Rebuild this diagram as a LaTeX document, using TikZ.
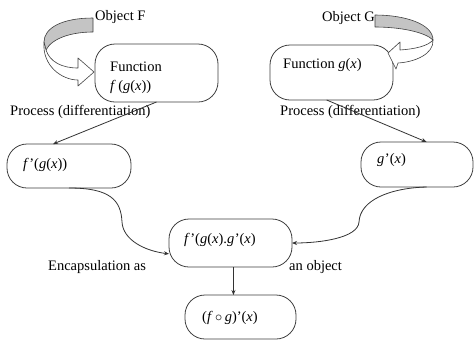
\documentclass[tikz,border=0pt]{standalone}
\usepackage{fontspec}
\setmainfont{Liberation Serif}
\usetikzlibrary{arrows.meta}
\newcommand{\pr}{\char"27\relax}
\newcommand{\iv}[1]{\textit{#1}}
\definecolor{edge}{HTML}{404040}
\definecolor{band}{HTML}{C4C4C4}
\tikzset{
  capsule/.style={draw=edge, line width=0.8pt, rounded corners=20pt, rectangle, inner sep=0pt, outer sep=0pt, fill=white},
  lbl/.style={inner sep=0pt, anchor=west, font=\fontsize{14.5}{16}\selectfont},
  conn/.style={draw=black!80, line width=0.8pt, -{Stealth[length=5pt,width=4pt]}},
  ribbon/.style={draw=edge, line width=0.6pt, line join=round}
}
\begin{document}
\begin{tikzpicture}[x=1pt,y=-1pt]
\useasboundingbox[fill=white] (0,0) rectangle (474,341);
% boxes
\node[capsule, minimum width=123pt, minimum height=58pt] (F) at (156.5,73) {};
\node[capsule, minimum width=123pt, minimum height=55pt] (G) at (331.5,72.5) {};
\node[capsule, minimum width=124pt, minimum height=44pt] (fp) at (69,166) {};
\node[capsule, minimum width=112pt, minimum height=45pt] (gp) at (417,164.5) {};
\node[capsule, minimum width=123pt, minimum height=48pt] (fgp) at (230.5,243) {};
\node[capsule, minimum width=111pt, minimum height=44pt] (comp) at (240.5,317) {};
% texts in boxes
\node[lbl] (tF1) at (110,67) {Function};
\node[lbl] (tF2) at (110,87) {\iv{f}\,(\iv{g}(\iv{x}))};
\node[lbl] (tG) at (283,65) {Function \iv{g}(\iv{x})};
\node[lbl] (tfp) at (23,165) {\iv{f}\kern0.5pt\pr(\iv{g}(\iv{x}))};
\node[lbl] (tgp) at (377,160) {\iv{g}\kern0.5pt\pr(\iv{x})};
\node[lbl] (tfgp) at (184,240) {\iv{f}\kern0.5pt\pr(\iv{g}(\iv{x}).\iv{g}\kern0.5pt\pr(\iv{x})};
\node[lbl] (tcomp) at (202,318) {(\iv{f}\,$\circ$\,\iv{g})\pr(\iv{x})};
% free labels
\node[lbl] (oF) at (95,17) {Object F};
\node[lbl] (oG) at (322,18) {Object G};
\node[lbl] (p1) at (10,112) {Process (differentiation)};
\node[lbl] (p2) at (280,112) {Process (differentiation)};
\node[lbl] (e1) at (48,267) {Encapsulation as};
\node[lbl] (e2) at (289,267) {an object};
% connectors
\draw[conn] (F.south) -- (fp.126);
\draw[conn] (G.-100) -- (gp.67);
\draw[conn] (fp.south) .. controls (110,188) and (121,200) .. (122,222)
  .. controls (123,240) and (145,251) .. (fgp.190);
\draw[conn] (gp.-67) .. controls (390,188) and (360,200) .. (359,222)
  .. controls (358,238) and (320,243) .. (fgp.east);
\draw[conn] (fgp.-83) -- (fgp.-83 |- comp.north);
% ribbon arrow F
\path[ribbon, fill=band] (93,18) .. controls (62,18) and (44,28) .. (44,42)
  -- (46,50) .. controls (52,38) and (72,32) .. (93,32) -- cycle;
\path[ribbon, fill=white] (44,42) .. controls (42,66) and (62,80) .. (78,80)
  -- (78,86) -- (94,72) -- (78,58) -- (78,68)
  .. controls (62,68) and (50,62) .. (46,50) -- cycle;
% ribbon arrow G
\path[ribbon, fill=band] (375,15) .. controls (405,15) and (433,24) .. (433,40)
  .. controls (425,32) and (400,27) .. (375,27) -- cycle;
\path[ribbon, fill=white] (433,40) .. controls (434,54) and (415,62) .. (398,63)
  -- (396,69) -- (388,53) -- (400,42) -- (400,50)
  .. controls (415,49) and (428,46) .. (433,40) -- cycle;
\end{tikzpicture}
\end{document}
